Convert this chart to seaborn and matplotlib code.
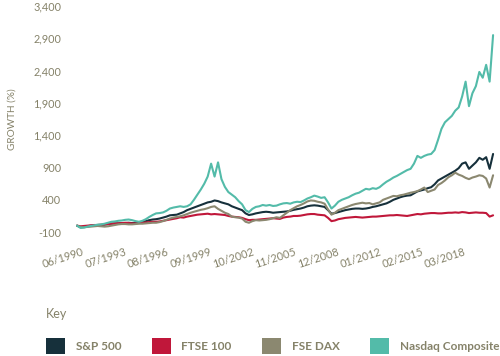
import matplotlib
matplotlib.use("Agg")
import matplotlib.pyplot as plt
from matplotlib.patches import Patch
from matplotlib.transforms import ScaledTranslation
import seaborn as sns
import pandas as pd

# Index names and colours
series = ['S&P 500', 'FTSE 100', 'FSE DAX', 'Nasdaq Composite']
colors = ['#16303b', '#c0173a', '#8b8870', '#53bba9']

# Growth (%), one value per quarter from 10/1989
sp500 = [0, -25, -20, -10, 0, 5, 10, 10, 15, 25,
         30, 35, 35, 40, 40, 45, 40, 40, 45, 55,
         70, 85, 95, 100, 110, 125, 140, 160, 165, 170,
         190, 210, 240, 260, 280, 300, 320, 340, 360, 370,
         390, 380, 360, 345, 330, 300, 280, 260, 240, 190,
         165, 175, 190, 200, 210, 215, 210, 200, 205, 210,
         215, 220, 230, 245, 255, 265, 280, 300, 310, 315,
         310, 300, 290, 240, 185, 195, 210, 225, 240, 250,
         260, 265, 265, 260, 265, 275, 290, 300, 315, 330,
         345, 370, 400, 420, 440, 455, 465, 470, 500, 530,
         545, 560, 580, 595, 640, 700, 730, 760, 790, 820,
         850, 890, 960, 980, 880, 930, 980, 1050, 1020, 1060,
         880, 1110]
ftse100 = [0, -10, -5, 0, 5, 10, 10, 15, 20, 25,
           30, 35, 35, 40, 45, 40, 35, 35, 40, 45,
           50, 55, 60, 60, 65, 75, 85, 95, 105, 115,
           130, 125, 140, 150, 160, 170, 175, 180, 185, 175,
           180, 175, 170, 165, 150, 140, 135, 130, 120, 100,
           85, 90, 90, 95, 100, 105, 110, 115, 110, 105,
           125, 135, 140, 150, 150, 155, 165, 175, 180, 180,
           170, 165, 160, 120, 70, 80, 100, 110, 120, 125,
           130, 135, 130, 125, 130, 135, 140, 140, 145, 150,
           155, 160, 160, 165, 160, 155, 150, 160, 170, 180,
           175, 185, 190, 195, 195, 190, 190, 195, 200, 200,
           205, 200, 210, 205, 195, 200, 205, 200, 200, 195,
           140, 160]
dax = [0, -20, -25, -20, -15, -10, -5, -10, -15, -10,
       0, 10, 20, 25, 25, 20, 20, 25, 30, 30,
       35, 40, 45, 45, 55, 70, 90, 110, 125, 135,
       145, 160, 180, 200, 215, 230, 245, 255, 270, 290,
       300, 260, 230, 200, 180, 140, 130, 125, 110, 60,
       45, 70, 85, 80, 85, 90, 100, 115, 130, 120,
       160, 200, 240, 270, 300, 320, 345, 375, 390, 385,
       370, 360, 340, 250, 170, 200, 240, 260, 280, 300,
       320, 335, 345, 355, 345, 350, 330, 345, 360, 400,
       420, 440, 460, 455, 470, 480, 495, 510, 520, 535,
       560, 590, 520, 540, 560, 630, 660, 700, 750, 780,
       820, 790, 770, 740, 720, 745, 760, 780, 770, 730,
       590, 780]
nasdaq = [0, -35, -30, -15, -5, 5, 15, 20, 30, 45,
          60, 65, 75, 80, 90, 95, 85, 70, 60, 75,
          100, 135, 165, 190, 195, 205, 230, 265, 280, 290,
          300, 290, 300, 330, 400, 480, 560, 650, 760, 960,
          760, 980, 720, 600, 520, 480, 440, 380, 330, 240,
          210, 260, 290, 300, 320, 310, 320, 305, 310, 330,
          345, 350, 340, 360, 370, 365, 390, 420, 440, 465,
          450, 430, 440, 360, 265, 310, 370, 400, 420, 440,
          470, 495, 510, 540, 570, 560, 580, 570, 595, 640,
          680, 710, 745, 770, 800, 830, 860, 880, 960, 1080,
          1050, 1080, 1100, 1110, 1170, 1330, 1500, 1600, 1650, 1700,
          1780, 1830, 2000, 2230, 1850, 2050, 2160, 2380, 2290, 2490,
          2230, 2950]

tick_labels = ['06/1990', '07/1993', '08/1996', '09/1999', '10/2002',
               '11/2005', '12/2008', '01/2012', '02/2015', '03/2018']
y_ticks = [-100, 400, 900, 1400, 1900, 2400, 2900, 3400]

dates = pd.date_range('1989-10-01', periods=len(nasdaq), freq='QS-OCT')
df = pd.DataFrame({'Date': dates, 'S&P 500': sp500, 'FTSE 100': ftse100,
                   'FSE DAX': dax, 'Nasdaq Composite': nasdaq})
df = df.melt(id_vars='Date', var_name='Index', value_name='Growth')

sns.set_style('white')
plt.rcParams['font.family'] = ['Lato', 'DejaVu Sans']
text_color = '#858269'

fig = plt.figure(figsize=(5, 3.56), dpi=100)
ax = fig.add_axes([0.15, 0.348, 0.84, 0.635])

sns.lineplot(data=df, x='Date', y='Growth', hue='Index', hue_order=series,
             palette=dict(zip(series, colors)), linewidth=1.5, legend=False, ax=ax)

ax.set_ylim(-100, 3400)
ax.set_xlim(dates[0] - pd.Timedelta(days=55), dates[0] + pd.Timedelta(days=11100))
sns.despine(ax=ax, left=True, bottom=True)

ax.set_yticks(y_ticks)
ax.set_yticklabels([f'{v:,}' for v in y_ticks])
ax.tick_params(axis='y', length=0, pad=10, labelsize=7.8, labelcolor=text_color)

ax.set_xticks(pd.to_datetime(tick_labels, format='%m/%Y'))
ax.set_xticklabels(tick_labels, rotation=18, ha='right', rotation_mode='anchor')
ax.tick_params(axis='x', direction='in', length=5, width=0.8, color='#e4e4e4',
               pad=10, labelsize=7.8, labelcolor=text_color)
for lab in ax.get_xticklabels():
    lab.set_transform(lab.get_transform() + ScaledTranslation(-3 / 72, 0, fig.dpi_scale_trans))

ax.set_xlabel('')
ax.set_ylabel('GROWTH (%)', fontsize=7.2, color=text_color)
ax.yaxis.set_label_coords(-0.14, 0.5)
ax.grid(False)

fig.text(46 / 500, 1 - 314 / 356, 'Key', fontsize=9, color=text_color, va='center')
handles = [Patch(facecolor=c, edgecolor='none') for c in colors]
fig.legend(handles, series, loc='center left', bbox_to_anchor=(46 / 500, 1 - 346 / 356),
           ncol=4, frameon=False, handlelength=1.6, handleheight=1.6, handletextpad=0.9,
           columnspacing=2.6, borderpad=0, borderaxespad=0,
           prop={'size': 8.5, 'weight': 'bold'}, labelcolor=text_color)

fig.savefig('out.png', dpi=100)
